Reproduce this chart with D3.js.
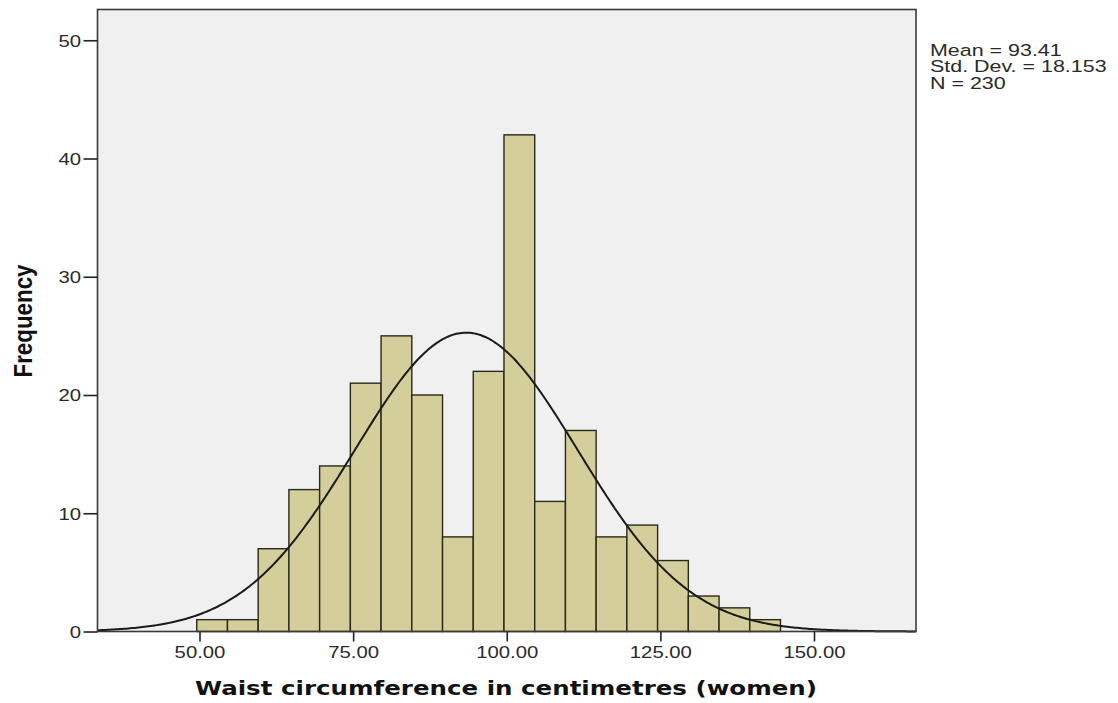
<!DOCTYPE html>
<html>
<head>
<meta charset="utf-8">
<script src="https://cdn.jsdelivr.net/npm/d3@7"></script>
<style>
  html, body { margin: 0; padding: 0; background: #ffffff; }
  svg { display: block; }
</style>
</head>
<body>
<svg id="chart" width="1118" height="703"></svg>
<script>
// ---- data ----
const binStarts = [49.55, 54.55, 59.55, 64.55, 69.55, 74.55, 79.55, 84.55, 89.55, 94.55,
                   99.55, 104.55, 109.55, 114.55, 119.55, 124.55, 129.55, 134.55, 139.55];
const binWidth = 5;
const frequencies = [1, 1, 7, 12, 14, 21, 25, 20, 8, 22, 42, 11, 17, 8, 9, 6, 3, 2, 1];
const xTicks = [50, 75, 100, 125, 150];
const yTicks = [0, 10, 20, 30, 40, 50];
const statLines = ["Mean = 93.41", "Std. Dev. = 18.153", "N = 230"];
const meanVal = 93.41, sdVal = 18.153, nVal = 230;
const xTitle = "Waist circumference in centimetres (women)";
const yTitle = "Frequency";

// ---- layout ----
const svg = d3.select("#chart");
const plot = { left: 97.5, right: 916, top: 9.5, bottom: 631.5 };

const x = d3.scaleLinear().domain([33.4, 166.6]).range([plot.left, plot.right]);
const y = d3.scaleLinear().domain([0, 52.6]).range([plot.bottom, plot.top]);

// plot background
svg.append("rect")
  .attr("x", plot.left).attr("y", plot.top)
  .attr("width", plot.right - plot.left).attr("height", plot.bottom - plot.top)
  .attr("fill", "#f0f0f0");

// bars
svg.append("g").selectAll("rect")
  .data(frequencies)
  .join("rect")
  .attr("x", (d, i) => x(binStarts[i]))
  .attr("y", d => y(d))
  .attr("width", (d, i) => x(binStarts[i] + binWidth) - x(binStarts[i]))
  .attr("height", d => y(0) - y(d))
  .attr("fill", "#d4cf9a")
  .attr("stroke", "#2a2818")
  .attr("stroke-width", 1.4);

// normal curve
const curveXs = d3.range(0, 401).map(i => 33.4 + (166.6 - 33.4) * i / 400);
const dens = v => nVal * binWidth / (sdVal * Math.sqrt(2 * Math.PI)) *
                  Math.exp(-0.5 * Math.pow((v - meanVal) / sdVal, 2));
svg.append("path")
  .datum(curveXs)
  .attr("d", d3.line().x(v => x(v)).y(v => y(dens(v))).curve(d3.curveBasis))
  .attr("fill", "none")
  .attr("stroke", "#1a1a1a")
  .attr("stroke-width", 2);

// plot border
svg.append("rect")
  .attr("x", plot.left).attr("y", plot.top)
  .attr("width", plot.right - plot.left).attr("height", plot.bottom - plot.top)
  .attr("fill", "none")
  .attr("stroke", "#3a3a3a")
  .attr("stroke-width", 1.6);

// y axis
const yAxis = svg.append("g")
  .attr("transform", `translate(${plot.left},0)`)
  .call(d3.axisLeft(y).tickValues(yTicks).tickSize(14).tickFormat(d3.format("d")));
yAxis.select(".domain").remove();
yAxis.selectAll(".tick line").attr("stroke", "#222").attr("stroke-width", 1.6);
yAxis.selectAll(".tick text")
  .attr("x", -13)
  .attr("dy", "0.36em")
  .attr("transform", "scale(1.27,1)")
  .attr("fill", "#2a2a2a")
  .style("font-family", "'Liberation Sans', Arial, sans-serif")
  .style("font-size", "16px");

// x axis
const xAxis = svg.append("g")
  .attr("transform", `translate(0,${plot.bottom})`)
  .call(d3.axisBottom(x).tickValues(xTicks).tickSize(10).tickFormat(d3.format(".2f")));
xAxis.select(".domain").remove();
xAxis.selectAll(".tick line").attr("stroke", "#222").attr("stroke-width", 1.6);
xAxis.selectAll(".tick text")
  .attr("y", 26.5)
  .attr("dy", null)
  .attr("transform", "scale(1.27,1)")
  .attr("fill", "#2a2a2a")
  .style("font-family", "'Liberation Sans', Arial, sans-serif")
  .style("font-size", "16px");

// axis titles
svg.append("text")
  .attr("x", 506).attr("y", 695)
  .attr("text-anchor", "middle")
  .attr("textLength", 622)
  .attr("lengthAdjust", "spacingAndGlyphs")
  .attr("fill", "#111")
  .style("font-family", "'DejaVu Sans', Verdana, sans-serif")
  .style("font-weight", "bold")
  .style("font-size", "20px")
  .text(xTitle);

svg.append("text")
  .attr("transform", "translate(32,321) rotate(-90)")
  .attr("text-anchor", "middle")
  .attr("textLength", 113)
  .attr("lengthAdjust", "spacingAndGlyphs")
  .attr("fill", "#111")
  .style("font-family", "'Liberation Sans Narrow', 'Liberation Sans', Arial, sans-serif")
  .style("font-weight", "bold")
  .style("font-size", "26px")
  .text(yTitle);

// stats text
svg.append("g")
  .attr("transform", "translate(930,0) scale(1.3,1)")
  .selectAll("text")
  .data(statLines)
  .join("text")
  .attr("x", 0)
  .attr("y", (d, i) => 56 + i * 16.5)
  .attr("fill", "#2a2a2a")
  .style("font-family", "'Liberation Sans', Arial, sans-serif")
  .style("font-size", "16.5px")
  .text(d => d);
</script>
</body>
</html>
